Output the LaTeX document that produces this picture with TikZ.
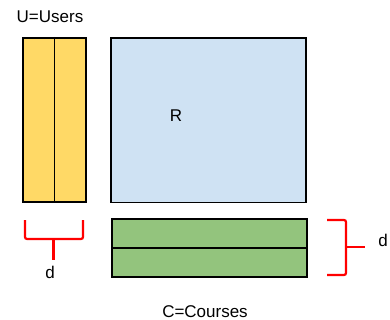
\documentclass[tikz,border=0pt]{standalone}
\usepackage{fontspec}
\setmainfont{Liberation Sans}
\definecolor{uyellow}{HTML}{FFD966}
\definecolor{rblue}{HTML}{CFE2F3}
\definecolor{cgreen}{HTML}{93C47D}
\begin{document}
\begin{tikzpicture}[x=1pt,y=-1pt,
  box/.style={draw=black,line width=1.6pt,inner sep=0pt,anchor=north west},
  brace/.style={draw=red,line width=2.2pt,rounded corners=2pt},
  lbl/.style={font=\fontsize{17}{20}\selectfont,inner sep=0pt}]
\useasboundingbox (0,0) rectangle (390,320);
\node[box,fill=uyellow,minimum width=63pt,minimum height=164pt] (U) at (22,37) {};
\node[box,fill=rblue,minimum width=195pt,minimum height=164pt] (R) at (110,37.5) {};
\node[box,fill=cgreen,minimum width=195pt,minimum height=58pt] (C) at (111,218) {};
\draw[line width=1.6pt] (U.north) -- (U.south);
\draw[line width=1.6pt] (C.west) -- (C.east);
\node[lbl] (ulbl) at (50,17) {U=Users};
\node[lbl] (rlbl) at (176,116) {R};
\node[lbl] (clbl) at (205,312) {C=Courses};
\node[lbl] (d1) at (50,272) {d};
\node[lbl] (d2) at (383,240) {d};
% left brace
\coordinate (lb1) at (25,220);
\coordinate (lb2) at (83,220);
\draw[brace] (lb1) -- (25,239) -- (83,239) -- (lb2);
\draw[brace] (53.5,239) -- (53.5,260);
% right brace
\draw[brace] (327,220) -- (346,220) -- (346,275) -- (327,275);
\draw[brace] (346,247) -- (365,247);
\end{tikzpicture}
\end{document}
